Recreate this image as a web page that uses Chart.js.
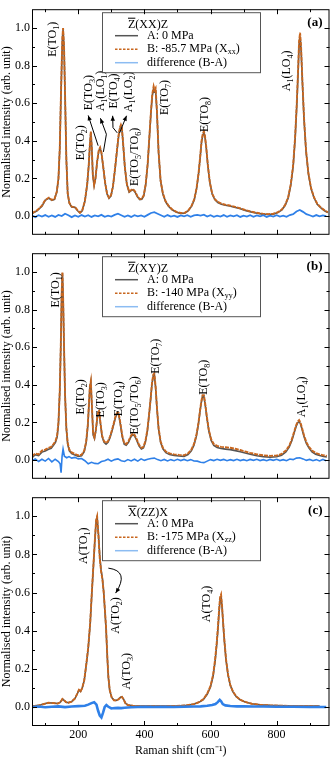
<!DOCTYPE html>
<html>
<head>
<meta charset="utf-8">
<script src="https://cdn.jsdelivr.net/npm/chart.js@4.4.0/dist/chart.umd.min.js"></script>
<style>
body { margin: 0; background: #fff; width: 331px; height: 758px; position: relative; overflow: hidden; }
canvas { position: absolute; left: 0; }
</style>
</head>
<body>
<canvas id="panelA" width="331" height="244" style="top:0px"></canvas>
<canvas id="panelB" width="331" height="244" style="top:244px"></canvas>
<canvas id="panelC" width="331" height="270" style="top:488px"></canvas>
<script>
// ---- data ----

// panel (a) Z(XX)Z
const shiftA = [60,75,90,100,111,120,128,135,140,144,
  147,150,152,154,157,160,164,168,173,180,
  190,198,205,212,220,227,232,235,238,241,
  244,248,252,257,262,266,270,275,281,287,
  293,299,305,311,317,322,326,329,332,336,
  341,347,354,360,366,372,379,386,392,398,
  404,410,415,420,424,428,431,434,438,443,
  449,456,464,473,484,497,510,522,533,543,
  551,558,564,569,573,577,580,583,587,592,
  598,605,613,622,633,645,658,672,688,705,
  722,740,758,775,790,804,816,826,835,843,
  850,856,861,865,868,871,874,878,883,889,
  896,904,913,923,934,945,955];
const intA_B = [.015,.03,.055,.085,.098,.085,.09,.13,.2,.36,
  .6,.82,.95,1.0,.9,.65,.3,.12,.07,.05,
  .048,.03,.018,.03,.08,.17,.28,.38,.45,.36,
  .22,.165,.2,.29,.35,.365,.34,.27,.18,.12,
  .097,.11,.16,.25,.35,.43,.47,.485,.47,.38,
  .26,.17,.13,.138,.143,.13,.105,.09,.092,.11,
  .17,.28,.42,.56,.65,.69,.67,.68,.56,.34,
  .19,.12,.08,.055,.035,.022,.016,.017,.03,.055,
  .09,.15,.23,.32,.40,.44,.45,.43,.37,.27,
  .18,.12,.09,.075,.066,.06,.056,.05,.042,.032,
  .024,.017,.012,.01,.012,.02,.035,.06,.1,.17,
  .27,.42,.6,.78,.93,.975,.9,.72,.52,.35,
  .23,.15,.1,.065,.045,.03,.02];
const intA_A = [.013,.028,.052,.083,.095,.083,.088,.127,.197,.355,
  .59,.81,.94,.99,.89,.64,.295,.118,.068,.048,
  .046,.028,.016,.028,.078,.167,.276,.375,.445,.355,
  .217,.162,.197,.286,.346,.36,.336,.266,.177,.117,
  .094,.107,.156,.246,.345,.425,.465,.478,.463,.375,
  .256,.167,.127,.135,.14,.127,.102,.087,.089,.107,
  .166,.275,.414,.552,.64,.675,.66,.665,.55,.335,
  .186,.117,.077,.052,.033,.02,.014,.015,.028,.052,
  .087,.146,.226,.315,.394,.432,.442,.424,.364,.266,
  .177,.117,.087,.072,.063,.057,.053,.047,.04,.03,
  .022,.015,.01,.008,.01,.018,.032,.057,.096,.165,
  .262,.41,.585,.76,.91,.955,.885,.71,.51,.343,
  .226,.147,.097,.062,.043,.028,.018];
const diffShiftA = [60,70,80,90,100,110,120,130,140,150,
  160,170,180,190,200,210,220,230,240,250,
  260,270,280,290,300,310,320,330,340,350,
  360,370,380,390,400,410,420,430,440,450,
  460,470,480,490,500,510,520,530,540,550,
  560,570,580,590,600,610,620,630,640,650,
  660,670,680,690,700,710,720,730,740,750,
  760,770,780,790,800,810,820,830,840,850,
  860,870,880,890,900,910,920,930,940,950];
const diffA = [.002,-.006,.004,-.003,.005,-.004,.003,-.005,.006,0,
  .012,.004,-.006,.003,-.004,.005,-.003,.004,-.005,.003,
  -.002,.006,-.004,.002,-.003,.006,.012,.004,-.004,.003,
  -.005,.004,-.002,.003,-.004,.006,.016,.02,.012,.004,
  -.004,.005,-.003,.002,-.005,.003,-.002,.004,-.004,.003,
  .006,.002,.007,-.003,.004,-.004,.002,-.003,.005,-.004,
  .003,-.002,.004,-.005,.002,-.003,.004,-.004,.003,-.002,
  .004,-.005,.002,-.003,.004,-.003,.002,-.004,.005,.01,
  .024,.032,.022,.01,.004,-.003,.005,-.002,.003,-.001];

// panel (b) Z(XY)Z
const shiftB = [60,70,80,90,100,110,118,125,131,136,
  140,144,147,150,152,154,157,160,164,168,
  173,180,190,200,210,218,224,229,232,235,
  238,241,245,249,253,257,260,263,267,272,
  278,284,290,296,302,308,313,318,322,327,
  333,339,345,352,358,364,370,377,384,391,
  397,403,409,414,419,423,427,430,434,438,
  443,449,456,465,476,490,505,520,532,542,
  550,557,563,568,572,576,580,584,589,595,
  602,610,620,632,645,660,675,690,705,720,
  740,760,780,800,815,828,838,846,853,859,
  864,868,872,877,883,890,898,907,918,930,
  942,952];
const intB_B = [.02,.035,.03,.05,.055,.065,.07,.085,.1,.13,
  .2,.37,.6,.9,1.0,.88,.6,.35,.17,.09,
  .055,.04,.032,.025,.028,.05,.1,.19,.29,.39,
  .42,.3,.14,.12,.16,.22,.26,.262,.2,.13,
  .1,.09,.1,.125,.16,.2,.235,.252,.25,.2,
  .13,.09,.085,.1,.125,.14,.135,.11,.08,.065,
  .07,.1,.16,.24,.33,.41,.455,.46,.39,.28,
  .17,.1,.065,.045,.035,.03,.027,.025,.035,.055,
  .085,.13,.19,.26,.31,.345,.345,.3,.23,.16,
  .11,.085,.075,.07,.068,.065,.06,.053,.045,.038,
  .03,.025,.022,.024,.032,.05,.075,.11,.15,.185,
  .205,.212,.2,.17,.13,.095,.07,.05,.038,.03,
  .025,.022];
const intB_A = [.012,.028,.023,.042,.048,.057,.062,.078,.093,.122,
  .19,.36,.595,.895,.995,.875,.595,.345,.164,.084,
  .049,.034,.026,.019,.022,.044,.094,.184,.284,.384,
  .414,.294,.134,.114,.154,.214,.254,.256,.194,.124,
  .094,.084,.094,.119,.154,.194,.229,.246,.244,.194,
  .124,.084,.079,.094,.119,.134,.129,.104,.074,.059,
  .064,.094,.154,.234,.324,.404,.449,.454,.384,.274,
  .164,.094,.059,.039,.029,.024,.021,.019,.029,.049,
  .079,.124,.184,.254,.304,.339,.339,.294,.224,.154,
  .104,.077,.066,.061,.058,.055,.05,.044,.037,.031,
  .023,.018,.015,.017,.025,.043,.068,.103,.143,.178,
  .198,.205,.193,.163,.123,.088,.063,.043,.031,.024,
  .019,.016];
const diffShiftB = [60,70,80,90,100,110,120,130,140,145,
  148,151,154,158,165,172,180,190,200,210,
  220,230,240,250,260,270,280,290,300,310,
  320,330,340,350,360,370,380,390,400,410,
  420,430,440,450,460,470,480,490,500,510,
  520,530,540,550,560,570,580,590,600,610,
  620,630,640,650,660,670,680,690,700,710,
  720,730,740,750,760,770,780,790,800,810,
  820,830,840,850,860,870,880,890,900,910,
  920,930,940,950];
const diffB = [-.004,.006,-.008,.004,-.006,.008,-.01,.004,-.008,-.02,
  -.068,.02,.058,.02,.012,.018,.01,.014,.006,.008,
  -.004,-.02,-.012,-.018,-.02,-.008,-.004,.004,-.006,.002,
  .006,-.004,-.008,.002,-.005,.004,-.006,.006,-.002,.004,
  .008,.01,.002,-.004,.003,-.005,.002,-.004,.004,-.003,
  .003,-.004,.002,-.005,-.006,-.012,-.014,-.006,.002,-.003,
  .004,-.002,.003,-.004,.002,-.003,.004,-.003,.002,-.004,
  .003,-.002,.004,-.003,.002,-.004,.003,-.002,.004,-.003,
  .002,-.004,.005,.002,.01,.012,.006,-.002,.003,-.004,
  .002,-.005,.003,-.004];

// panel (c) X(ZZ)X
const shiftC = [60,80,95,110,125,138,146,152,157,163,
  170,180,190,197,202,207,212,218,224,230,
  236,241,246,250,254,257,261,265,269,273,
  277,281,284,288,291,295,301,308,315,322,
  328,332,337,343,350,365,390,420,450,480,
  510,530,550,565,578,590,600,608,614,619,
  623,626,629,632,635,638,642,647,653,660,
  668,678,690,705,725,750,780,820,870,930];
const intC_B = [.003,.008,.015,.022,.02,.018,.025,.042,.035,.025,
  .022,.028,.045,.07,.09,.082,.1,.14,.22,.31,
  .44,.6,.75,.87,.98,1.0,.9,.78,.71,.67,
  .6,.5,.42,.26,.16,.09,.05,.035,.033,.04,
  .05,.053,.04,.018,.01,.006,.004,.004,.004,.005,
  .006,.009,.015,.025,.04,.07,.11,.17,.25,.34,
  .43,.51,.575,.59,.53,.45,.35,.25,.17,.115,
  .08,.055,.038,.026,.017,.011,.008,.006,.005,.004];
const intC_A = [.003,.008,.015,.022,.02,.018,.025,.041,.035,.025,
  .022,.028,.044,.069,.088,.081,.099,.138,.218,.306,
  .436,.595,.745,.866,.975,.995,.905,.79,.72,.675,
  .6,.49,.41,.254,.155,.088,.05,.036,.034,.041,
  .051,.054,.041,.019,.01,.006,.004,.004,.004,.005,
  .006,.009,.015,.024,.038,.066,.104,.162,.24,.33,
  .42,.5,.562,.575,.52,.44,.345,.245,.168,.113,
  .079,.054,.037,.026,.017,.011,.008,.006,.005,.004];
const diffShiftC = [60,80,100,120,140,160,180,200,220,230,
  240,248,255,260,265,270,275,280,285,290,
  300,310,320,330,340,360,380,400,430,460,
  490,520,550,570,590,605,615,622,628,632,
  637,645,660,680,700,730,760,800,850,900,
  950];
const diffC = [0,.002,-.002,.001,.003,-.001,.002,.004,.006,.012,
  .02,.025,.012,-.02,-.045,-.055,-.03,0,.01,.002,
  -.008,-.006,-.005,-.006,-.004,-.002,0,.001,0,.001,
  0,.001,.002,.003,.006,.01,.015,.025,.037,.03,
  .015,.008,.005,.003,.003,.002,.002,.001,.001,0,
  0];

// axis ticks
const xMajor = [200, 400, 600, 800];
const xMinor = [100, 300, 500, 700, 900];
const yMajor = [0, 0.2, 0.4, 0.6, 0.8, 1.0];
const yMinor = [0.1, 0.3, 0.5, 0.7, 0.9];

// peak labels (data coordinates of label centre), {..} = subscript
const peaksA = ['E(TO{1})','E(TO{2})','E(TO{3})','A{1}(LO{1})','E(TO{4})','A{1}(LO{2})','E(TO{5}/TO{6})','E(TO{7})','E(TO{8})','A{1}(LO{4})'];
const peaksAx = [120, 204, 229, 266, 305, 350, 368, 459, 580, 828];
const peaksAy = [0.94, 0.39, 0.656, 0.665, 0.665, 0.66, 0.314, 0.63, 0.54, 0.772];
const peaksB = ['E(TO{1})','E(TO{2})','E(TO{3})','E(TO{4})','E(TO{5}/TO{6})','E(TO{7})','E(TO{8})','A{1}(LO{4})'];
const peaksBx = [130, 206, 266, 321, 368, 433, 576, 872];
const peaksBy = [0.905, 0.336, 0.32, 0.326, 0.29, 0.552, 0.44, 0.336];
const peaksC = ['A(TO{1})','A(TO{2})','A(TO{3})','A(TO{4})'];
const peaksCx = [214, 311, 344, 586];
const peaksCy = [0.845, 0.48, 0.187, 0.54];

const serif = "'Liberation Serif', 'Times New Roman', serif";
const colA = '#555555', colB = '#c8661e', colDiff = '#2f80e8';

const panels = {
  panelA: {
    letter: '(a)', geo: 'Z(XX)Z', labelB: ['B: -85.7 MPa (X', 'xx', ')'],
    peaks: peaksA, px: peaksAx, py: peaksAy,
    arrows: [
      [[260, 0.374], [230, 0.535]],
      [[276, 0.341], [285, 0.435], [267, 0.52]],
      [[318, 0.442], [305, 0.47], [304, 0.533]],
      [[325, 0.442], [346, 0.533]]
    ]
  },
  panelB: {
    letter: '(b)', geo: 'Z(XY)Z', labelB: ['B: -140 MPa (X', 'yy', ')'],
    peaks: peaksB, px: peaksBx, py: peaksBy, arrows: []
  },
  panelC: {
    letter: '(c)', geo: 'X(ZZ)X', labelB: ['B: -175 MPa (X', 'zz', ')'],
    peaks: peaksC, px: peaksCx, py: peaksCy, arrows: [],
    curve: [[291, 0.728], [356, 0.713], [313, 0.597]]
  }
};

function richParts(text) {
  return text.split(/(\{[^}]*\})/).filter(s => s !== '').map(s =>
    s[0] === '{' ? { t: s.slice(1, -1), sub: true } : { t: s, sub: false });
}

function drawRich(ctx, text, x, y, size, vertical) {
  const parts = richParts(text);
  const subSize = Math.round(size * 0.7);
  let w = 0;
  parts.forEach(p => {
    ctx.font = (p.sub ? subSize : size) + 'px ' + serif;
    p.w = ctx.measureText(p.t).width;
    w += p.w;
  });
  ctx.save();
  ctx.translate(x, y);
  if (vertical) ctx.rotate(-Math.PI / 2);
  ctx.textAlign = 'left';
  ctx.textBaseline = 'alphabetic';
  ctx.fillStyle = '#000';
  let cx = -w / 2;
  parts.forEach(p => {
    ctx.font = (p.sub ? subSize : size) + 'px ' + serif;
    ctx.fillText(p.t, cx, size * 0.35 + (p.sub ? size * 0.25 : 0));
    cx += p.w;
  });
  ctx.restore();
}

function arrowHead(ctx, x0, y0, x1, y1) {
  const ang = Math.atan2(y1 - y0, x1 - x0);
  const L = 5, W = 2.2;
  ctx.beginPath();
  ctx.moveTo(x1, y1);
  ctx.lineTo(x1 - L * Math.cos(ang) + W * Math.sin(ang), y1 - L * Math.sin(ang) - W * Math.cos(ang));
  ctx.lineTo(x1 - L * Math.cos(ang) - W * Math.sin(ang), y1 - L * Math.sin(ang) + W * Math.cos(ang));
  ctx.closePath();
  ctx.fill();
}

const decorPlugin = {
  id: 'decor',
  afterDraw(chart) {
    const cfg = panels[chart.canvas.id];
    const { ctx, chartArea: a } = chart;
    const xs = chart.scales.x, ys = chart.scales.y;
    ctx.save();

    // peak labels
    cfg.peaks.forEach((t, i) => {
      drawRich(ctx, t, xs.getPixelForValue(cfg.px[i]), ys.getPixelForValue(cfg.py[i]), 12, true);
    });

    // arrows
    ctx.strokeStyle = '#000';
    ctx.fillStyle = '#000';
    ctx.lineWidth = 1;
    cfg.arrows.forEach(pts => {
      const p = pts.map(q => [xs.getPixelForValue(q[0]), ys.getPixelForValue(q[1])]);
      ctx.beginPath();
      ctx.moveTo(p[0][0], p[0][1]);
      for (let k = 1; k < p.length; k++) ctx.lineTo(p[k][0], p[k][1]);
      ctx.stroke();
      const n = p.length;
      arrowHead(ctx, p[n - 2][0], p[n - 2][1], p[n - 1][0], p[n - 1][1]);
    });
    if (cfg.curve) {
      const p = cfg.curve.map(q => [xs.getPixelForValue(q[0]), ys.getPixelForValue(q[1])]);
      ctx.beginPath();
      ctx.moveTo(p[0][0], p[0][1]);
      ctx.quadraticCurveTo(p[1][0], p[1][1], p[2][0], p[2][1]);
      ctx.stroke();
      arrowHead(ctx, p[1][0], p[1][1], p[2][0], p[2][1]);
    }

    // legend box
    const bx = a.left + 70, by = a.top + 3, bw = 158, bh = 60;
    ctx.fillStyle = '#fff';
    ctx.fillRect(bx, by, bw, bh);
    ctx.strokeStyle = '#555';
    ctx.strokeRect(bx + 0.5, by + 0.5, bw, bh);
    ctx.fillStyle = '#000';
    ctx.font = '12px ' + serif;
    ctx.textBaseline = 'middle';
    ctx.textAlign = 'left';
    const tx = bx + 26, ty = by + 12.5;
    ctx.fillText(cfg.geo, tx, ty);
    const zw = ctx.measureText(cfg.geo[0]).width;
    ctx.fillRect(tx, ty - 7, zw, 1);
    const rows = [by + 23.5, by + 37, by + 50.5];
    const lx0 = a.left + 83, lx1 = a.left + 106, txt = a.left + 115;
    const styles = [[colA, []], [colB, [2.5, 1.5]], ['#8cbcf2', []]];
    styles.forEach((s, i) => {
      ctx.strokeStyle = s[0];
      ctx.lineWidth = 1.5;
      ctx.setLineDash(s[1]);
      ctx.beginPath();
      ctx.moveTo(lx0, rows[i]);
      ctx.lineTo(lx1, rows[i]);
      ctx.stroke();
    });
    ctx.setLineDash([]);
    ctx.fillText('A: 0 MPa', txt, rows[0]);
    ctx.fillText(cfg.labelB[0], txt, rows[1]);
    let w0 = ctx.measureText(cfg.labelB[0]).width;
    ctx.font = '8px ' + serif;
    ctx.fillText(cfg.labelB[1], txt + w0, rows[1] + 3);
    const w1 = ctx.measureText(cfg.labelB[1]).width;
    ctx.font = '12px ' + serif;
    ctx.fillText(cfg.labelB[2], txt + w0 + w1, rows[1]);
    ctx.fillText('difference (B-A)', txt, rows[2]);

    // panel letter
    ctx.font = 'bold 13px ' + serif;
    ctx.textAlign = 'right';
    ctx.fillText(cfg.letter, a.right - 7, a.top + 13);

    // frame and inward ticks
    ctx.strokeStyle = '#000';
    ctx.lineWidth = 1;
    ctx.strokeRect(a.left + 0.5, a.top + 0.5, a.right - a.left - 1, a.bottom - a.top - 1);
    ctx.beginPath();
    const xt = (v, len) => {
      const p = Math.round(xs.getPixelForValue(v)) + 0.5;
      ctx.moveTo(p, a.bottom); ctx.lineTo(p, a.bottom - len);
      ctx.moveTo(p, a.top); ctx.lineTo(p, a.top + len);
    };
    const yt = (v, len) => {
      const p = Math.round(ys.getPixelForValue(v)) + 0.5;
      ctx.moveTo(a.left, p); ctx.lineTo(a.left + len, p);
      ctx.moveTo(a.right, p); ctx.lineTo(a.right - len, p);
    };
    xMajor.forEach(v => xt(v, 5));
    xMinor.forEach(v => xt(v, 3));
    yMajor.forEach(v => yt(v, 5));
    yMinor.forEach(v => yt(v, 3));
    ctx.stroke();
    ctx.restore();
  }
};

function makePanel(id, shift, intA, intB, dShift, diff, bottomAxis, padTop, diffWidth) {
  const showX = bottomAxis > 10;
  new Chart(document.getElementById(id), {
    type: 'line',
    data: {
      datasets: [
        { data: dShift.map((s, i) => ({ x: s, y: diff[i] })), borderColor: colDiff, borderWidth: diffWidth, pointRadius: 0, order: 1 },
        { data: shift.map((s, i) => ({ x: s, y: intB[i] })), borderColor: colB, borderWidth: 1.9, borderDash: [4, 1], pointRadius: 0, order: 2 },
        { data: shift.map((s, i) => ({ x: s, y: intA[i] })), borderColor: colA, borderWidth: 1.6, pointRadius: 0, order: 3 }
      ]
    },
    options: {
      responsive: false,
      animation: false,
      devicePixelRatio: 1,
      layout: { padding: { top: padTop, right: 1.5, left: 0, bottom: 0 } },
      plugins: { legend: { display: false }, tooltip: { enabled: false } },
      scales: {
        x: {
          type: 'linear', min: 60, max: 960,
          grid: { display: false, drawTicks: false }, border: { display: false },
          afterBuildTicks: s => { s.ticks = xMajor.map(v => ({ value: v })); },
          ticks: { display: showX, color: '#000', font: { family: serif, size: 12 }, padding: 2, maxRotation: 0 },
          title: { display: showX, text: 'Raman shift (cm⁻¹)', color: '#000', font: { family: serif, size: 12 }, padding: { top: 0, bottom: 0 } },
          afterFit: s => { s.height = bottomAxis; }
        },
        y: {
          min: -0.1, max: 1.1,
          grid: { display: false, drawTicks: false }, border: { display: false },
          afterBuildTicks: s => { s.ticks = yMajor.map(v => ({ value: v })); },
          ticks: { color: '#000', font: { family: serif, size: 12 }, padding: 2, callback: v => v.toFixed(1) },
          title: { display: true, text: 'Normalised intensity (arb. unit)', color: '#000', font: { family: serif, size: 12 }, padding: { top: 0, bottom: 0 } },
          afterFit: s => { s.width = 32; }
        }
      }
    },
    plugins: [decorPlugin]
  });
}

makePanel('panelA', shiftA, intA_A, intA_B, diffShiftA, diffA, 5, 1, 1.8);
makePanel('panelB', shiftB, intB_A, intB_B, diffShiftB, diffB, 4, 1, 1.6);
makePanel('panelC', shiftC, intC_A, intC_B, diffShiftC, diffC, 32, 0.5, 2.6);
</script>
</body>
</html>
